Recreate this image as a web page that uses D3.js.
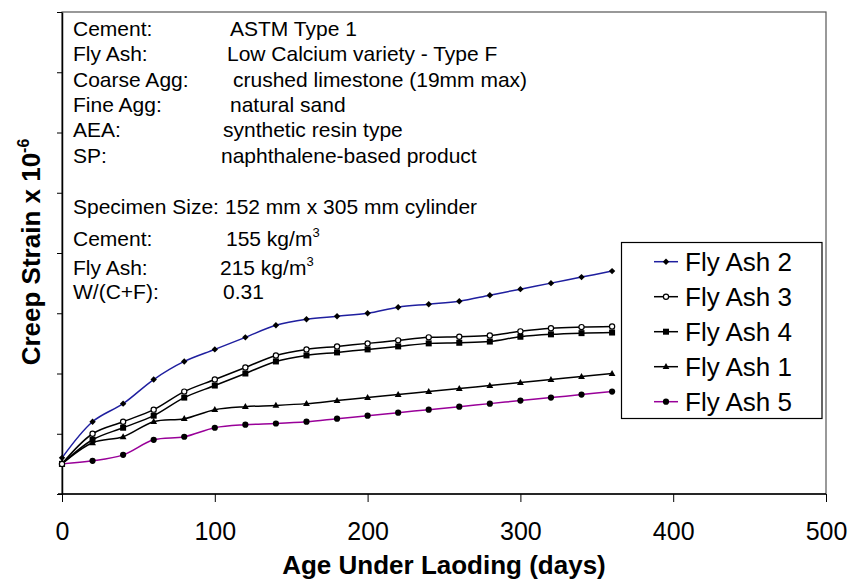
<!DOCTYPE html>
<html>
<head>
<meta charset="utf-8">
<script src="https://cdn.jsdelivr.net/npm/d3@7"></script>
<style>
  html, body { margin: 0; padding: 0; background: #fff; }
  svg { display: block; font-family: "Liberation Sans", Arial, Helvetica, sans-serif; }
</style>
</head>
<body>
<svg id="chart" width="849" height="581"></svg>
<script>
// Creep strain readings, one value every 20 days of loading
const days = [0, 20, 40, 60, 80, 100, 120, 140, 160, 180, 200, 220, 240, 260, 280, 300, 320, 340, 360];
const flyAsh2 = [60, 120, 150, 190, 220, 240, 260, 280, 290, 295, 300, 310, 315, 320, 330, 340, 350, 360, 370];
const flyAsh3 = [50, 100, 120, 140, 170, 190, 210, 230, 240, 245, 250, 255, 260, 261, 263, 270, 275, 277, 278];
const flyAsh4 = [50, 90, 110, 130, 160, 180, 200, 220, 230, 235, 240, 245, 250, 251, 253, 261, 265, 267, 268];
const flyAsh1 = [50, 85, 95, 120, 125, 140, 145, 147, 150, 155, 160, 165, 170, 175, 180, 185, 190, 195, 200];
const flyAsh5 = [50, 55, 65, 90, 95, 110, 115, 117, 120, 125, 130, 135, 140, 145, 150, 155, 160, 165, 170];

const seriesNames = ["Fly Ash 2", "Fly Ash 3", "Fly Ash 4", "Fly Ash 1", "Fly Ash 5"];
const seriesValues = [flyAsh2, flyAsh3, flyAsh4, flyAsh1, flyAsh5];

const xTicks = [0, 100, 200, 300, 400, 500];
const yTicks = [0, 100, 200, 300, 400, 500, 600, 700, 800];

// Mix description shown in the upper-left corner of the plot
const infoLabels = ["Cement:", "Fly Ash:", "Coarse Agg:", "Fine Agg:", "AEA:", "SP:",
                    "Specimen Size:", "Cement:", "Fly Ash:", "W/(C+F):"];
const infoValues = ["ASTM Type 1", "Low Calcium variety - Type F", "crushed limestone (19mm max)",
                    "natural sand", "synthetic resin type", "naphthalene-based product",
                    "152 mm x 305 mm cylinder", "155 kg/m", "215 kg/m", "0.31"];
const infoSup = ["", "", "", "", "", "", "", "3", "3", ""];

// ---- styling per series ----
const styles = {
  "Fly Ash 2": { color: "#1f1f9f", marker: "diamond" },
  "Fly Ash 3": { color: "#000000", marker: "open" },
  "Fly Ash 4": { color: "#000000", marker: "square" },
  "Fly Ash 1": { color: "#000000", marker: "triangle" },
  "Fly Ash 5": { color: "#990099", marker: "dot" }
};

const svg = d3.select("#chart");
const plot = { left: 62, right: 826, top: 12, bottom: 494 };

const x = d3.scaleLinear().domain([0, 500]).range([plot.left, plot.right]);
const y = d3.scaleLinear().domain([0, 800]).range([plot.bottom, plot.top]);

// plot frame
svg.append("rect")
  .attr("x", plot.left).attr("y", plot.top)
  .attr("width", plot.right - plot.left).attr("height", plot.bottom - plot.top)
  .attr("fill", "none").attr("stroke", "#555").attr("stroke-width", 1.2);

// axes
const xAxis = svg.append("g")
  .attr("transform", `translate(0,${plot.bottom})`)
  .call(d3.axisBottom(x).tickValues(xTicks).tickSize(8).tickSizeOuter(0).tickPadding(20));
xAxis.select(".domain").attr("stroke", "#000").attr("stroke-width", 1.5)
  .attr("d", `M${plot.left - 4},0H${plot.right}`);
xAxis.selectAll(".tick line").attr("stroke", "#000").attr("stroke-width", 1);
xAxis.selectAll(".tick text")
  .attr("font-size", 25).attr("fill", "#000")
  .attr("font-family", "'Liberation Sans', Arial, sans-serif");

const yAxis = svg.append("g")
  .attr("transform", `translate(${plot.left},0)`)
  .call(d3.axisLeft(y).tickValues(yTicks).tickSize(5).tickSizeOuter(0).tickFormat(""));
yAxis.select(".domain").attr("stroke", "#000").attr("stroke-width", 1.5);
yAxis.selectAll(".tick line").attr("stroke", "#000").attr("stroke-width", 1);

// axis titles
svg.append("text")
  .attr("x", (plot.left + plot.right) / 2).attr("y", 574)
  .attr("text-anchor", "middle")
  .attr("font-size", 26).attr("font-weight", "bold")
  .text("Age Under Laoding (days)");

const yTitle = svg.append("text")
  .attr("transform", "translate(40,252) rotate(-90)")
  .attr("text-anchor", "middle")
  .attr("font-size", 26).attr("font-weight", "bold");
yTitle.append("tspan").text("Creep Strain x 10");
yTitle.append("tspan").attr("font-size", 16).attr("dy", -11).text("-6");

// mix description
const infoBaselines = [36, 61, 87, 112, 137, 163, 214, 246, 275, 299];
const infoValueX = [230, 227, 233, 230, 223, 221, 225, 226, 220, 223];
const info = svg.append("g").attr("font-size", 21).attr("fill", "#000");
infoLabels.forEach((lab, i) => {
  info.append("text").attr("x", 73).attr("y", infoBaselines[i]).text(lab);
  const t = info.append("text").attr("x", infoValueX[i]).attr("y", infoBaselines[i]);
  t.append("tspan").text(infoValues[i]);
  if (infoSup[i]) t.append("tspan").attr("font-size", 13).attr("dy", -9).text(infoSup[i]);
});

// marker drawing helper
function drawMarker(g, type, cx, cy) {
  if (type === "diamond") {
    g.append("path").attr("d", `M${cx},${cy - 3.2}L${cx + 3.2},${cy}L${cx},${cy + 3.2}L${cx - 3.2},${cy}Z`)
      .attr("fill", "#000");
  } else if (type === "open") {
    g.append("circle").attr("cx", cx).attr("cy", cy).attr("r", 2.6)
      .attr("fill", "#fff").attr("stroke", "#000").attr("stroke-width", 1.2);
  } else if (type === "square") {
    g.append("rect").attr("x", cx - 3).attr("y", cy - 3).attr("width", 6).attr("height", 6)
      .attr("fill", "#000");
  } else if (type === "triangle") {
    g.append("path").attr("d", `M${cx},${cy - 3.6}L${cx + 3.4},${cy + 2.4}L${cx - 3.4},${cy + 2.4}Z`)
      .attr("fill", "#000");
  } else {
    g.append("circle").attr("cx", cx).attr("cy", cy).attr("r", 3.1).attr("fill", "#000");
  }
}

// series lines (smoothed) and markers
const line = d3.line()
  .x(d => x(d[0])).y(d => y(d[1]))
  .curve(d3.curveCatmullRom.alpha(0.5));

const drawOrder = ["Fly Ash 5", "Fly Ash 1", "Fly Ash 4", "Fly Ash 3", "Fly Ash 2"];
drawOrder.forEach(name => {
  const vals = seriesValues[seriesNames.indexOf(name)];
  const pts = days.map((d, i) => [d, vals[i]]);
  const st = styles[name];
  const g = svg.append("g");
  g.append("path").attr("d", line(pts))
    .attr("fill", "none").attr("stroke", st.color).attr("stroke-width", 1.5);
  pts.forEach(p => drawMarker(g, st.marker, x(p[0]), y(p[1])));
});

// legend
const legend = svg.append("g");
legend.append("rect")
  .attr("x", 621.5).attr("y", 242.5).attr("width", 200.5).attr("height", 176)
  .attr("fill", "#fff").attr("stroke", "#000").attr("stroke-width", 1.2);
seriesNames.forEach((name, i) => {
  const cy = 261.7 + i * 35;
  const st = styles[name];
  legend.append("line").attr("x1", 654).attr("x2", 678).attr("y1", cy).attr("y2", cy)
    .attr("stroke", st.color).attr("stroke-width", 1.5);
  drawMarker(legend, st.marker, 666, cy);
  legend.append("text").attr("x", 685).attr("y", cy + 9)
    .attr("font-size", 26).attr("fill", "#000").text(name);
});
</script>
</body>
</html>
